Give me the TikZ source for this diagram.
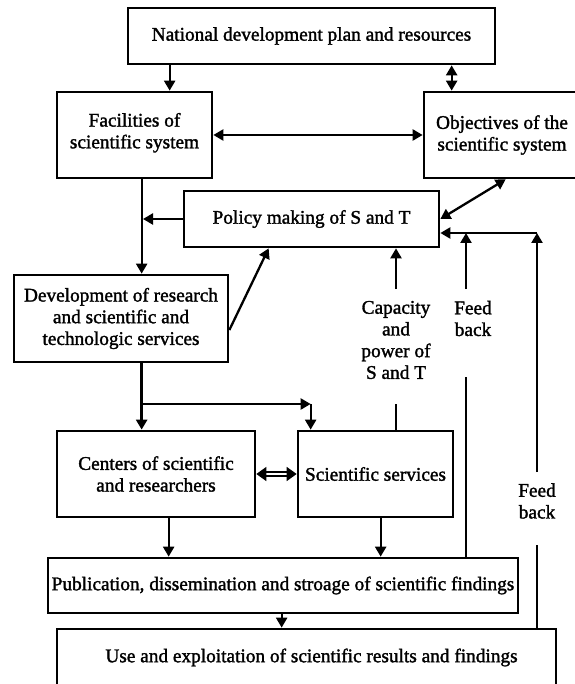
\documentclass[tikz,border=0pt]{standalone}
\usepackage{fontspec}
\setmainfont{Liberation Serif}[BoldFont={Liberation Serif}, BoldFeatures={FakeBold=1.6}]
\usetikzlibrary{arrows.meta}

\begin{document}
\begin{tikzpicture}[x=1pt,y=-1pt,
    box/.style={draw, line width=2.7pt, inner sep=0pt, align=center, font=\fontsize{19.3}{21.7}\selectfont\bfseries},
    lbl/.style={inner sep=0pt, align=center, font=\fontsize{19.3}{21.7}\selectfont\bfseries},
    line/.style={line width=2.3pt},
    arr/.style={line width=2.3pt, -{Triangle[length=10pt,width=11pt]}},
    darr/.style={line width=2.3pt, {Triangle[length=10pt,width=11pt]}-{Triangle[length=10pt,width=11pt]}}]
    \useasboundingbox (0,0) rectangle (574,684);
    % boxes
    \node[box, minimum width=367, minimum height=56] (nat) at (311.5,36) {National development plan and resources};
    \node[box, minimum width=155, minimum height=86] (fac) at (134.5,135) {Facilities of\\scientific system\\[-13pt]};
    \node[box, minimum width=156, minimum height=86] (obj) at (502,135) {Objectives of the\\scientific system};
    \node[box, minimum width=255, minimum height=56] (pol) at (311.5,219) {Policy making of S and T};
    \node[box, minimum width=214, minimum height=87] (dev) at (121,318.5) {Development of research\\and scientific and\\technologic services};
    \node[box, minimum width=198, minimum height=86] (cen) at (156,474) {Centers of scientific\\and researchers};
    \node[box, minimum width=155, minimum height=86] (sci) at (375.5,474) {Scientific services};
    \node[box, minimum width=470, minimum height=55] (pub) at (283,585.5) {Publication, dissemination and stroage of scientific findings};
    \node[box, minimum width=499, minimum height=57] (use) at (306.5,657.5) {\hspace{10pt}Use and exploitation of scientific results and findings};
    % labels
    \node[lbl] (cap) at (396,340) {Capacity\\and\\power of\\S and T};
    \node[lbl] (fb1) at (473,318.5) {Feed\\back};
    \node[lbl] (fb2) at (537,501) {Feed\\back};
    % free ends
    \coordinate (sp) at (143,404);
    \coordinate (s1) at ([xshift=14]sci.north west);
    \coordinate (captop) at (396,289);
    \coordinate (capbot) at (396,404);
    \coordinate (f1top) at (466,289);
    \coordinate (f1bot) at (466,377);
    \coordinate (f2top) at (537,472);
    \coordinate (f2bot) at (537,545);
    \coordinate (j1) at (466,233);
    \coordinate (j2) at (537,233);
    % top part
    \draw[arr] ([xshift=43]nat.south west) coordinate (n1) -- (n1 |- fac.north);
    \draw[darr] ([xshift=29]obj.north west) coordinate (n2) -- (n2 |- nat.south);
    \draw[darr] (fac.east) -- (obj.west);
    \draw[darr] ([xshift=83]obj.south west) -- (pol.east);
    \draw[arr] ([xshift=86]fac.south west) -- ([xshift=129]dev.north west);
    \draw[arr] (pol.west) -- (pol.west -| sp);
    \draw[arr] ([yshift=-11.5]dev.east) -- ([xshift=86]pol.south west);
    % middle part
    \draw[arr, line width=3.2pt] ([xshift=129]dev.south west) coordinate (d1) -- (d1 |- cen.north);
    \draw[arr] (sp) -- (sp -| s1);
    \draw[arr] (sp -| s1) -- (s1);
    \draw[{Triangle[length=10pt,width=14pt]}-{Triangle[length=10pt,width=14pt]}, double, double distance=2.5pt, line width=1.5pt] (cen.east) -- (sci.west);
    \draw[line] (sci.north -| capbot) -- (capbot);
    \draw[arr] (captop) -- (captop |- pol.south);
    % feed back
    \draw[line] (pub.north -| f1bot) -- (f1bot);
    \draw[arr] (f1top) -- (j1);
    \draw[line] (use.north -| f2bot) -- (f2bot);
    \draw[arr] (f2top) -- (j2);
    \draw[arr] (j2) -- (j2 -| pol.east);
    % bottom part
    \draw[arr] ([xshift=113]cen.south west) coordinate (c1) -- (c1 |- pub.north);
    \draw[arr] ([xshift=84]sci.south west) coordinate (c2) -- (c2 |- pub.north);
    \draw[arr] ([xshift=235]pub.south west) coordinate (c3) -- (c3 |- use.north);
\end{tikzpicture}
\end{document}
